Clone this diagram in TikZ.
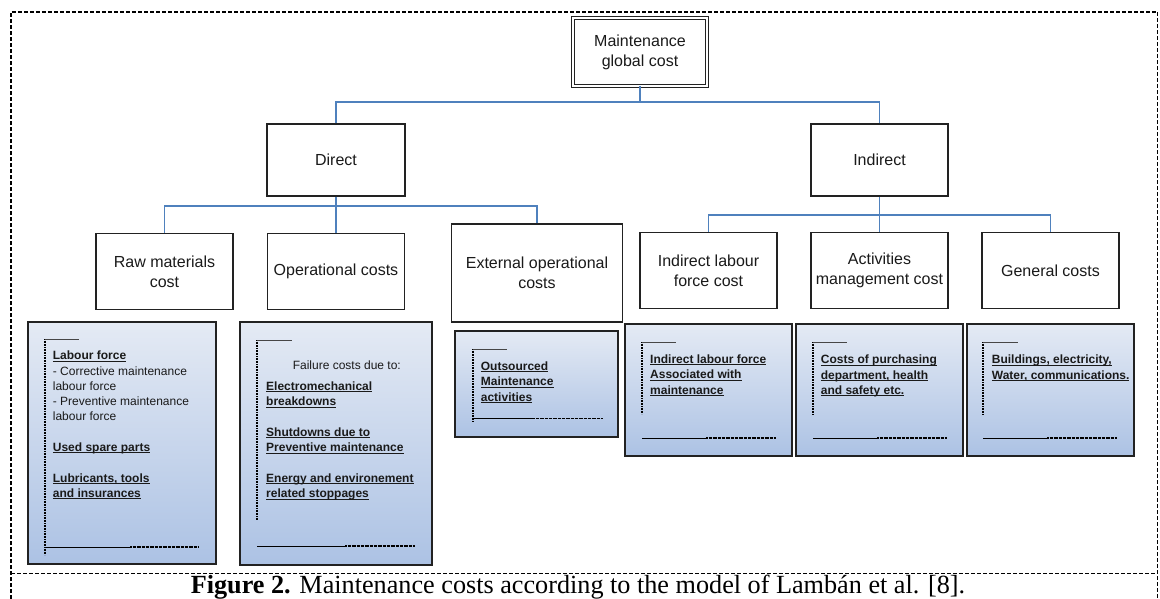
\documentclass[tikz,border=0pt]{standalone}
\usepackage{fontspec}
\setmainfont{Liberation Sans}
\newfontfamily\captfont{Liberation Serif}
\usetikzlibrary{shadings}
\definecolor{txt}{RGB}{26,26,26}
\definecolor{bord}{RGB}{34,34,34}
\definecolor{conblue}{RGB}{79,129,189}
\definecolor{btop}{RGB}{228,234,244}
\definecolor{bbot}{RGB}{172,194,228}
\definecolor{brgray}{RGB}{70,70,70}
\newcommand{\ulb}[1]{\textbf{\setbox0=\hbox{#1}\rlap{\rule[-1.7pt]{\wd0}{0.75pt}}\box0}}
\newcommand{\fst}{\rule{0pt}{9pt}}
\tikzset{
  frame/.style={line width=1.8pt, dash pattern=on 4pt off 2pt, draw=black},
  conn/.style={draw=conblue, line width=1.3pt},
  lbox/.style={draw=bord, line width=1.4pt, fill=white, inner sep=0pt, align=center,
    text=txt, font=\fontsize{16}{20}\selectfont},
  bluebox/.style={draw=bord, line width=1.3pt, top color=btop, bottom color=bbot,
    inner sep=0pt},
  btext/.style={anchor=north west, align=left, inner sep=0pt, text=txt,
    font=\fontsize{12}{15.3}\selectfont},
  brv/.style={draw=black, line width=1.5pt, dash pattern=on 1pt off 0.6pt},
  brtop/.style={draw=brgray, line width=1pt},
  brsol/.style={draw=black, line width=1pt},
  brdot/.style={draw=black, line width=1.2pt, dash pattern=on 0.8pt off 0.5pt},
}
\begin{document}
\begin{tikzpicture}[x=1pt,y=-1pt]
\useasboundingbox (0,0) rectangle (1160,599);
% outer frame
\draw[frame] (11,599) -- (11,12) -- (1157.5,12) -- (1157.5,599);
\draw[frame] (11,573.5) -- (1157.5,573.5);

% top node
\node[draw=bord, double=white, double distance=1.6pt, line width=0.9pt, fill=white,
  minimum width=134pt, minimum height=68pt, inner sep=0pt, align=center, text=txt,
  font=\fontsize{16}{20}\selectfont] (mgc) at (640,52) {Maintenance\\global cost};

% level 1
\node[lbox, minimum width=138pt, minimum height=72pt] (dir) at (336,160) {Direct};
\node[lbox, minimum width=137pt, minimum height=72pt] (ind) at (879.5,160) {Indirect};

% level 2
\node[lbox, minimum width=137pt, minimum height=76pt] (raw) at (164.5,271.5) {Raw materials\\cost};
\node[lbox, minimum width=137pt, minimum height=76pt] (ope) at (336,271.5) {Operational costs};
\node[lbox, minimum width=171pt, minimum height=98pt] (ext) at (537,273) {External operational\\costs};
\node[lbox, minimum width=137pt, minimum height=76pt] (ilf) at (708.5,270.5) {Indirect labour\\force cost};
\node[lbox, minimum width=137pt, minimum height=76pt] (act) at (879.5,270.5) {Activities\\management cost};
\node[lbox, minimum width=137pt, minimum height=76pt] (gen) at (1050.5,270.5) {General costs};

% connectors
\coordinate (j0) at (640,102);
\draw[conn] (mgc.south) -- (j0);
\draw[conn] (dir.north) |- (j0) -| (ind.north);
\coordinate (j1) at (336,206);
\draw[conn] (dir.south) -- (j1) -- (ope.north);
\draw[conn] (raw.north) |- (j1) -| (ext.north);
\coordinate (j2) at (879.5,215);
\draw[conn] (ind.south) -- (j2) -- (act.north);
\draw[conn] (ilf.north) |- (j2) -| (gen.north);

% blue boxes
\node[bluebox, minimum width=188pt, minimum height=242pt] (b1) at (122,443) {};
\node[bluebox, minimum width=192pt, minimum height=243pt] (b2) at (336,443.5) {};
\node[bluebox, minimum width=163pt, minimum height=106pt] (b3) at (536.5,384) {};
\node[bluebox, minimum width=167pt, minimum height=132pt] (b4) at (708.5,390) {};
\node[bluebox, minimum width=167pt, minimum height=132pt] (b5) at (879.5,390) {};
\node[bluebox, minimum width=167pt, minimum height=132pt] (b6) at (1050.5,390) {};

% brackets
% b1
\draw[brv] (45,339) -- (45,555);
\draw[brtop] (45,339) -- (79,339);
\draw[brsol] (45,547) -- (130,547);
\draw[brdot] (130,547) -- (198,547);
% b2
\draw[brv] (257,340) -- (257,520);
\draw[brtop] (257,340) -- (292,340);
\draw[brsol] (257,546) -- (345,546);
\draw[brdot] (345,546) -- (414,546);
% b3
\draw[brv] (473,349) -- (473,422);
\draw[brtop] (473,349) -- (507,349);
\draw[brsol] (473,418.5) -- (533,418.5);
\draw[brdot] (533,418.5) -- (602,418.5);
% b4
\draw[brv] (642,342) -- (642,414);
\draw[brtop] (642,342) -- (676,342);
\draw[brsol] (642,438) -- (706,438);
\draw[brdot] (706,438) -- (775,438);
% b5
\draw[brv] (813,342) -- (813,415);
\draw[brtop] (813,342) -- (847,342);
\draw[brsol] (813,438) -- (877,438);
\draw[brdot] (877,438) -- (946,438);
% b6
\draw[brv] (983,342) -- (983,415);
\draw[brtop] (983,342) -- (1018,342);
\draw[brsol] (983,438) -- (1047,438);
\draw[brdot] (1047,438) -- (1117,438);

% texts in blue boxes (anchor = top of first line; baseline 9pt lower)
\node[btext] (t1) at (52.7,350.5) {\fst\ulb{Labour force}\\- Corrective maintenance\\labour force\\- Preventive maintenance\\labour force\\[15.3pt]\ulb{Used spare parts}\\[15.3pt]\ulb{Lubricants, tools}\\\ulb{and insurances}};
\node[anchor=base, inner sep=0pt, text=txt, font=\fontsize{12}{15.3}\selectfont] (t2a) at (346.8,369.3) {Failure costs due to:};
\node[btext] (t2) at (266,381.3) {\fst\ulb{Electromechanical}\\\ulb{breakdowns}\\[15.3pt]\ulb{Shutdowns due to}\\\ulb{Preventive maintenance}\\[15.3pt]\ulb{Energy and environement}\\\ulb{related stoppages}};
\node[btext] (t3) at (480.7,361.3) {\fst\ulb{Outsourced}\\\ulb{Maintenance}\\\ulb{activities}};
\node[btext] (t4) at (650,354.3) {\fst\ulb{Indirect labour force}\\\ulb{Associated with}\\\ulb{maintenance}};
\node[btext] (t5) at (820.7,354.6) {\fst\ulb{Costs of purchasing}\\\ulb{department, health}\\\ulb{and safety etc.}};
\node[btext] (t6) at (991.7,354.6) {\fst\ulb{Buildings, electricity,}\\\ulb{Water, communications.}};

% caption
\node[anchor=base, inner sep=0pt, text=black, font=\captfont\fontsize{26.2}{30}\selectfont] (cap) at (578,593.5) {\textbf{Figure 2.} Maintenance costs according to the model of Lambán et al. [8].};
\end{tikzpicture}
\end{document}
